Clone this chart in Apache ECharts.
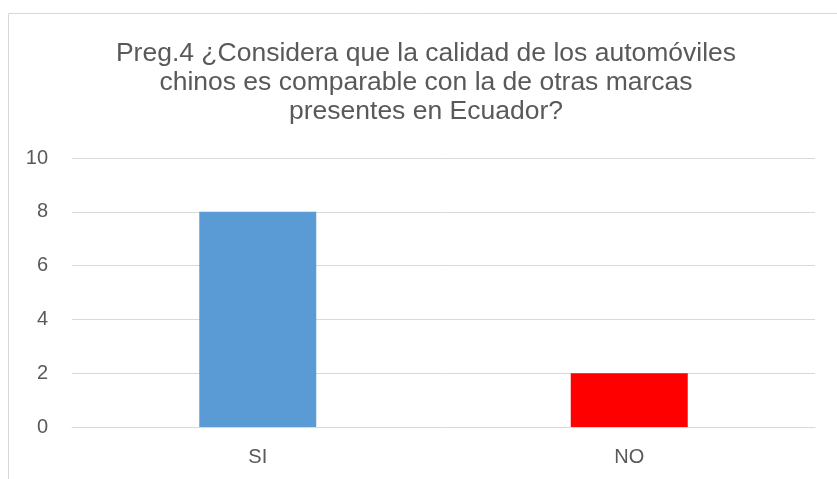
<!DOCTYPE html>
<html>
<head>
<meta charset="utf-8">
<script src="https://cdn.jsdelivr.net/npm/echarts@6/dist/echarts.min.js"></script>
<style>
  html, body { margin: 0; padding: 0; background: #fff; }
  #main { width: 837px; height: 479px; }
</style>
</head>
<body>
<div id="main"></div>
<script>
// datos de la pregunta 4
const categorias = ['SI', 'NO'];
const respuestas = [8, 2];
const colores = ['#5b9bd5', '#ff0000'];
const titulo = 'Preg.4 ¿Considera que la calidad de los automóviles\nchinos es comparable con la de otras marcas\npresentes en Ecuador?';

var myChart = echarts.init(document.getElementById('main'));

var option = {
  animation: false,
  title: {
    text: titulo,
    left: 421,
    textAlign: 'center',
    top: 34,
    textStyle: {
      fontFamily: 'Liberation Sans',
      fontSize: 26.5,
      fontWeight: 'normal',
      lineHeight: 29,
      color: '#595959'
    }
  },
  graphic: [{
    type: 'rect',
    shape: { x: 8.5, y: 13.5, width: 900, height: 600 },
    style: { fill: 'none', stroke: '#d9d9d9', lineWidth: 1 },
    silent: true
  }],
  grid: { left: 72, right: 22, top: 158, bottom: 52 },
  xAxis: {
    type: 'category',
    data: categorias,
    axisLine: { lineStyle: { color: '#d9d9d9', width: 1 } },
    axisTick: { show: false },
    axisLabel: {
      color: '#595959',
      fontFamily: 'Liberation Sans',
      fontSize: 20,
      margin: 20
    }
  },
  yAxis: {
    type: 'value',
    min: 0,
    max: 10,
    interval: 2,
    axisLine: { show: false },
    axisTick: { show: false },
    splitLine: { lineStyle: { color: '#d9d9d9', width: 1 } },
    axisLabel: {
      color: '#595959',
      fontFamily: 'Liberation Sans',
      fontSize: 20,
      margin: 24
    }
  },
  series: [{
    type: 'bar',
    barWidth: 117,
    data: respuestas.map((v, i) => ({ value: v, itemStyle: { color: colores[i] } }))
  }]
};

myChart.setOption(option);
</script>
</body>
</html>
